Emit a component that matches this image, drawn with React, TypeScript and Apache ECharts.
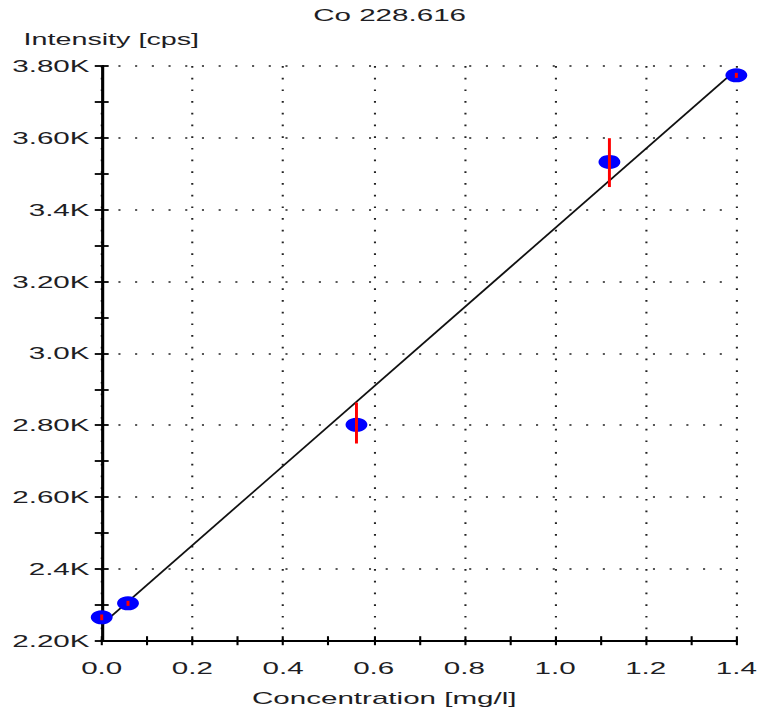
import React, { useEffect, useRef } from "react";
import * as echarts from "echarts";

// ---- data ----
const chartTitle = "Co 228.616";
const xAxisTitle = "Concentration [mg/l]";
const yAxisTitle = "Intensity [cps]";

const concentration = [0, 0.058, 0.562, 1.12, 1.4];
const intensity = [2265, 2304, 2801, 3533, 3774];
const errorLow = [2257, 2297, 2749, 3463, 3767];
const errorHigh = [2273, 2311, 2863, 3599, 3781];

const fitX = [0, 1.4];
const fitY = [2245, 3790];

const xTickLabels = ["0.0", "0.2", "0.4", "0.6", "0.8", "1.0", "1.2", "1.4"];
const yTickLabels = ["2.20K", "2.4K", "2.60K", "2.80K", "3.0K", "3.20K", "3.4K", "3.60K", "3.80K"];

const X_MIN = 0;
const X_MAX = 1.4;
const X_STEP = 0.2;
const Y_MIN = 2200;
const Y_MAX = 3800;
const Y_STEP = 200;

// horizontal stretch of the original screenshot
const S = 1.74;
const W = 762 / S;
const FONT = "'Liberation Sans', Arial, sans-serif";
const TXT = "#1e1e24";

export default function App() {
  const ref = useRef<HTMLDivElement>(null);

  useEffect(() => {
    if (!ref.current) return;
    const chart = echarts.init(ref.current, null, { renderer: "svg" });

    const pts = concentration.map((x, i) => [x, intensity[i]]);
    const errs = concentration.map((x, i) => [x, errorLow[i], errorHigh[i]]);
    const fit = fitX.map((x, i) => [x, fitY[i]]);

    const xBase = {
      type: "value",
      min: X_MIN,
      max: X_MAX,
      interval: X_STEP,
      position: "bottom",
    };
    const yBase = {
      type: "value",
      min: Y_MIN,
      max: Y_MAX,
      interval: Y_STEP,
      position: "left",
    };

    chart.setOption({
      animation: false,
      backgroundColor: "#ffffff",
      title: {
        text: chartTitle,
        left: 218.9,
        top: 2,
        textAlign: "center",
        textStyle: { fontFamily: FONT, fontSize: 17, fontWeight: "normal", color: TXT },
      },
      grid: { left: 58.45, right: 13.05, top: 66, bottom: 76.3 },
      xAxis: [
        {
          ...xBase,
          name: xAxisTitle,
          nameLocation: "middle",
          nameGap: 49,
          nameTextStyle: { fontFamily: FONT, fontSize: 17, color: TXT, padding: [0, 40, 0, 0] },
          axisLine: { show: true, onZero: false, lineStyle: { color: "#000", width: 1.8 } },
          axisTick: { show: true, inside: false, length: 4.5, lineStyle: { color: "#000", width: 1.2 } },
          minorTick: { show: true, splitNumber: 2, length: 4.5, lineStyle: { color: "#000", width: 1.2 } },
          axisLabel: {
            margin: 19,
            fontFamily: FONT,
            fontSize: 17,
            color: TXT,
            formatter: (v: number) => xTickLabels[Math.round((v - X_MIN) / X_STEP)] ?? "",
          },
          splitLine: { show: true, lineStyle: { color: "#222", width: 1.2, type: [1.7, 10] } },
        },
        {
          ...xBase,
          axisLine: { show: false, onZero: false },
          axisTick: { show: true, inside: true, length: 4.5, lineStyle: { color: "#000", width: 1.2 } },
          minorTick: { show: true, splitNumber: 2, length: 4.5, lineStyle: { color: "#000", width: 1.2 } },
          axisLabel: { show: false },
          splitLine: { show: false },
        },
      ],
      yAxis: [
        {
          ...yBase,
          name: yAxisTitle,
          nameLocation: "end",
          nameGap: 18.5,
          nameTextStyle: { fontFamily: FONT, fontSize: 16.5, color: TXT, padding: [0, 0, 0, 11] },
          axisLine: { show: true, onZero: false, lineStyle: { color: "#000", width: 1.8 } },
          axisTick: { show: true, inside: false, length: 4, lineStyle: { color: "#000", width: 1.8 } },
          minorTick: { show: true, splitNumber: 2, length: 4, lineStyle: { color: "#000", width: 1.8 } },
          axisLabel: {
            margin: 7,
            fontFamily: FONT,
            fontSize: 17,
            color: TXT,
            formatter: (v: number) => yTickLabels[Math.round((v - Y_MIN) / Y_STEP)] ?? "",
          },
          splitLine: { show: true, lineStyle: { color: "#222", width: 1.6, type: [1.2, 8.4] } },
        },
        {
          ...yBase,
          axisLine: { show: false, onZero: false },
          axisTick: { show: true, inside: true, length: 4, lineStyle: { color: "#000", width: 1.8 } },
          minorTick: { show: true, splitNumber: 2, length: 4, lineStyle: { color: "#000", width: 1.8 } },
          axisLabel: { show: false },
          splitLine: { show: false },
        },
      ],
      series: [
        {
          name: "Calibration",
          type: "line",
          xAxisIndex: 0,
          yAxisIndex: 0,
          data: fit,
          symbol: "none",
          lineStyle: { color: "#111", width: 1.3 },
          z: 2,
          silent: true,
        },
        {
          name: "Standards",
          type: "scatter",
          xAxisIndex: 0,
          yAxisIndex: 0,
          data: pts,
          symbol: "circle",
          symbolSize: [12.6, 14],
          itemStyle: { color: "#0000ff", opacity: 1 },
          clip: false,
          z: 3,
        },
        {
          name: "Error",
          type: "custom",
          xAxisIndex: 0,
          yAxisIndex: 0,
          data: errs,
          encode: { x: 0, y: [1, 2] },
          clip: false,
          z: 4,
          renderItem: (params: any, api: any) => {
            const x = api.value(0);
            const p1 = api.coord([x, api.value(1)]);
            const p2 = api.coord([x, api.value(2)]);
            return {
              type: "line",
              shape: { x1: p1[0], y1: p1[1], x2: p2[0], y2: p2[1] },
              style: { stroke: "#ff0000", lineWidth: 1.7 },
            };
          },
        },
      ],
    });

    return () => chart.dispose();
  }, []);

  return (
    <div
      ref={ref}
      style={{
        position: "absolute",
        left: 0,
        top: 0,
        width: W,
        height: 717,
        transform: `scaleX(${S})`,
        transformOrigin: "0 0",
        background: "#fff",
      }}
    />
  );
}
